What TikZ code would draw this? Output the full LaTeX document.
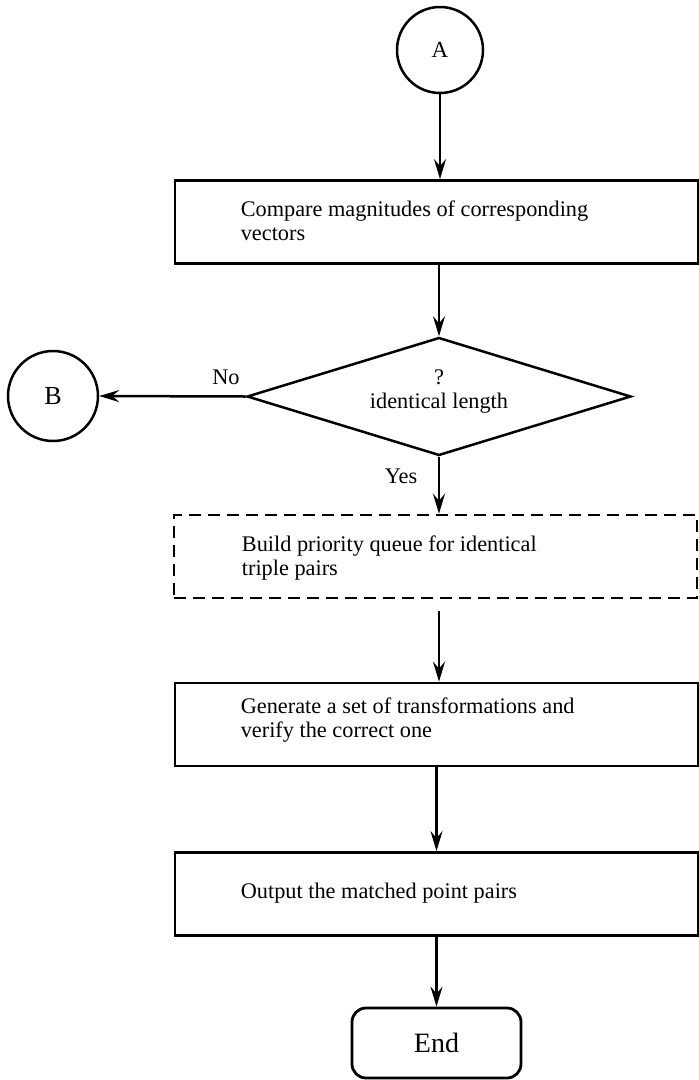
\documentclass[tikz,border=0pt]{standalone}
\usepackage{fontspec}
\setmainfont{Liberation Serif}
\usetikzlibrary{arrows.meta,shapes.geometric,calc}

\begin{document}
\begin{tikzpicture}[x=1pt,y=-1pt,
  frame/.style={draw, line width=2.8pt, minimum width=523pt, minimum height=83pt, inner sep=0pt},
  dashframe/.style={frame, line width=2.6pt, dash pattern=on 12pt off 7pt},
  connector/.style={circle, draw, line width=2.5pt, inner sep=0pt},
  boxtext/.style={anchor=west, align=left, inner sep=0pt, font=\fontsize{22.3}{24}\selectfont},
  lbl/.style={inner sep=0pt, font=\fontsize{22.3}{24}\selectfont},
  flow/.style={draw, line width=2.5pt, -{Stealth[length=20pt,width=12pt,inset=7pt]}},
  decision/.style={diamond, draw, line width=2.5pt, minimum width=384pt, minimum height=118pt, inner sep=0pt},
  terminal/.style={draw, line width=2.8pt, rounded corners=14pt, minimum width=169pt, minimum height=70pt, inner sep=0pt}
]
\useasboundingbox (0,0) rectangle (699,1080);

% connectors and decision
\node[connector, minimum size=86pt, font=\fontsize{23}{23}\selectfont] (A) at (440,50) {A};
\node[connector, minimum size=90pt, font=\fontsize{26}{26}\selectfont] (B) at (53,396) {B};
\node[decision] (D) at (439,396.5) {};
\node[lbl, align=center] (Dt) at (439,392) {?\\identical length};

% process boxes
\node[frame] (P1) at (436.5,222) {};
\node[boxtext] (P1t) at ($(P1.west)+(67,-1)$) {Compare magnitudes of corresponding\\vectors};

\node[dashframe] (Q) at (435.5,556.5) {};
\node[boxtext] (Qt) at ($(Q.west)+(69,2)$) {Build priority queue for identical\\triple pairs};

\node[frame] (P3) at (436.5,724.5) {};
\node[boxtext] (P3t) at ($(P3.west)+(67,-4)$) {Generate a set of transformations and\\verify the correct one};

\node[frame] (P4) at (436.5,894) {};
\node[boxtext] (P4t) at ($(P4.west)+(67,-1)$) {Output the matched point pairs};

\node[terminal, font=\fontsize{28}{28}\selectfont] (E) at (436.5,1043) {End};

% branch labels
\node[lbl] (no) at (226,377) {No};
\node[lbl] (yes) at (401,476) {Yes};

% flow lines
\draw[flow] (A.south) -- (A.south |- P1.north);
\draw[flow] (D.north |- P1.south) -- (D.north);
\draw[flow] (D.west) -- (B.east);
\draw[flow] (D.south) -- (D.south |- Q.north);
\draw[flow, shorten <=12pt] (Q.south -| D.south) -- (P3.north -| D.south);
\draw[flow] (P3.south -| E.north) -- (P4.north -| E.north);
\draw[flow] (P4.south -| E.north) -- (E.north);
\end{tikzpicture}
\end{document}
